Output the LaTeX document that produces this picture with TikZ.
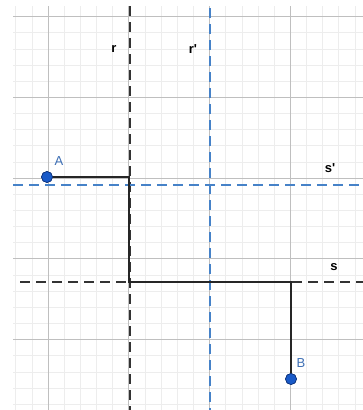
\documentclass[tikz,border=0pt]{standalone}
\usepackage{fontspec}
\setmainfont{Liberation Sans}[Ligatures=TeXOff]
\begin{document}
\begin{tikzpicture}[x=1pt,y=-1pt,
  minorgrid/.style={draw=black!7,line width=0.6pt},
  majorgrid/.style={draw=black!25,line width=0.8pt},
  blackdash/.style={draw=black!80,line width=2pt,dash pattern=on 10pt off 6pt},
  bluedash/.style={draw={rgb,255:red,70;green,130;blue,200},line width=2pt,dash pattern=on 10pt off 6pt},
  pathline/.style={draw=black!85,line width=2pt},
  pt/.style={circle,fill={rgb,255:red,25;green,90;blue,200},draw={rgb,255:red,15;green,50;blue,120},line width=0.6pt,inner sep=0pt,minimum size=11pt},
  ptlabel/.style={text={rgb,255:red,60;green,110;blue,180},font=\fontsize{13}{13}\selectfont},
  linelabel/.style={text=black,font=\bfseries\fontsize{13}{13}\selectfont}]
\useasboundingbox (0,0) rectangle (363,410);
\fill[white] (0,0) rectangle (363,410);
% grid
\begin{scope}
\clip (13,6) rectangle (363,410);
\foreach \k in {-3,...,20} {
  \draw[minorgrid] ({48+16.15*\k},0) -- ({48+16.15*\k},410);
}
\foreach \k in {-12,...,15} {
  \draw[minorgrid] (0,{178+16.15*\k}) -- (363,{178+16.15*\k});
}
\foreach \k in {0,...,3} {
  \draw[majorgrid] ({48+80.75*\k},0) -- ({48+80.75*\k},410);
}
\foreach \k in {-2,...,2} {
  \draw[majorgrid] (0,{178+80.75*\k}) -- (363,{178+80.75*\k});
}
\end{scope}
% dashed lines
\coordinate (rtop) at (130,6);
\coordinate (rbot) at (130,410);
\coordinate (rptop) at (210,8);
\coordinate (rpbot) at (210,410);
\coordinate (spl) at (13,185);
\coordinate (spr) at (363,185);
\coordinate (sl) at (20,282);
\coordinate (sr) at (363,282);
\draw[blackdash] (rtop) -- (rbot);
\draw[bluedash] (rptop) -- (rpbot);
\draw[bluedash] (spl) -- (spr);
\draw[blackdash] (sl) -- (sr);
% path
\coordinate (c1) at (129,177);
\coordinate (c2) at (129,282);
\coordinate (c3) at (291,282);
\node[pt] (A) at (47,177) {};
\node[pt] (B) at (291,379) {};
\draw[pathline] (A.center) -- (c1) -- (c2) -- (c3) -- (B.center);
\node[pt] at (A) {};
\node[pt] at (B) {};
% labels
\node[ptlabel] (lA) at (59,161) {A};
\node[ptlabel] (lB) at (301,363) {B};
\node[linelabel] (lr) at (114,49) {r};
\node[linelabel] (lrp) at (193,49) {r'};
\node[linelabel] (lsp) at (330,168) {s'};
\node[linelabel] (ls) at (334,267) {s};
\end{tikzpicture}
\end{document}
